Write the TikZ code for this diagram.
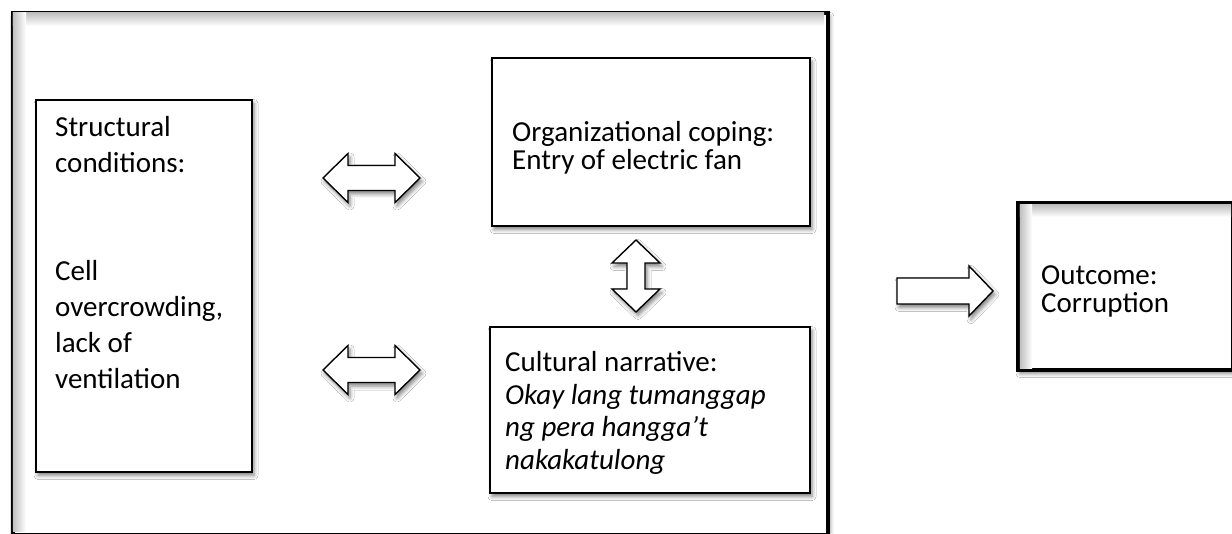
\documentclass[tikz,border=0pt]{standalone}
\usepackage{fontspec}
\setmainfont{Carlito}
\usetikzlibrary{shadows.blur}
\begin{document}
\begin{tikzpicture}[x=1pt,y=-1pt,
  softshadow/.style={blur shadow={shadow xshift=2pt, shadow yshift=-3.5pt, shadow blur radius=4pt, shadow opacity=50}},
  box/.style={draw, line width=1.4pt, fill=white, inner sep=0pt, softshadow},
  thickbox/.style={draw, line width=3.6pt, fill=white, inner sep=0pt, softshadow},
  lbl/.style={anchor=base west, align=left, inner sep=0pt},
  blockarrow/.style={draw, line width=1.4pt, fill=white, line join=miter, softshadow},
  innershadeA/.style={top color=black!25, bottom color=white},
  innershadeB/.style={left color=black!25, right color=white}]
\useasboundingbox (0,0) rectangle (1232,534);
\fill[white] (0,0) rectangle (1232,534);

% outer frame
\node[thickbox, minimum width=815pt, minimum height=522pt, anchor=north west] (frame) at (11,11) {};
\shade[innershadeA] (12.8,12.8) rectangle (824.2,26);
\shade[innershadeB] (12.8,12.8) rectangle (26,531.2);

% inner boxes
\node[box, minimum width=216pt, minimum height=372pt] (struct) at (144,286) {};
\node[box, minimum width=318pt, minimum height=168pt] (org) at (651,142) {};
\node[box, minimum width=320pt, minimum height=166pt] (cult) at (650,410) {};

% outcome box
\node[thickbox, minimum width=215pt, minimum height=167pt] (outcome) at (1125.5,286.5) {};
\shade[innershadeA] (1019.8,204.8) rectangle (1231.2,217);
\shade[innershadeB] (1019.8,204.8) rectangle (1032,368.2);

% texts (base anchor = baseline of the last line)
\node[lbl, font=\fontsize{29}{36}\selectfont] (structtext) at (55,389)
  {Structural\\conditions:\\[72pt]Cell\\overcrowding,\\lack of\\ventilation};
\node[lbl, font=\fontsize{29}{28}\selectfont] (orgtext) at (512,170)
  {Organizational coping:\\Entry of electric fan};
\node[lbl, font=\fontsize{29}{33}\selectfont] (culttext) at (505,470)
  {Cultural narrative:\\\textit{Okay lang tumanggap}\\\textit{ng pera hangga’t}\\\textit{nakakatulong}};
\node[lbl, font=\fontsize{29}{28}\selectfont] (outtext) at (1041,313)
  {Outcome:\\Corruption};

% block arrows
\path[blockarrow] (323,178) -- (348,153.5) -- (348,165.5) -- (395,165.5) -- (395,153.5) -- (420,178)
  -- (395,202.5) -- (395,190.5) -- (348,190.5) -- (348,202.5) -- cycle;
\path[blockarrow] (323,370) -- (348,345.5) -- (348,357.5) -- (395,357.5) -- (395,345.5) -- (420,370)
  -- (395,394.5) -- (395,382.5) -- (348,382.5) -- (348,394.5) -- cycle;
\path[blockarrow] (636,240) -- (660,263) -- (645,263) -- (645,289) -- (660,289) -- (636,312)
  -- (612,289) -- (627,289) -- (627,263) -- (612,263) -- cycle;
\path[blockarrow] (897,278) -- (969,278) -- (969,266) -- (993,291) -- (969,316) -- (969,304) -- (897,304) -- cycle;
\end{tikzpicture}
\end{document}
